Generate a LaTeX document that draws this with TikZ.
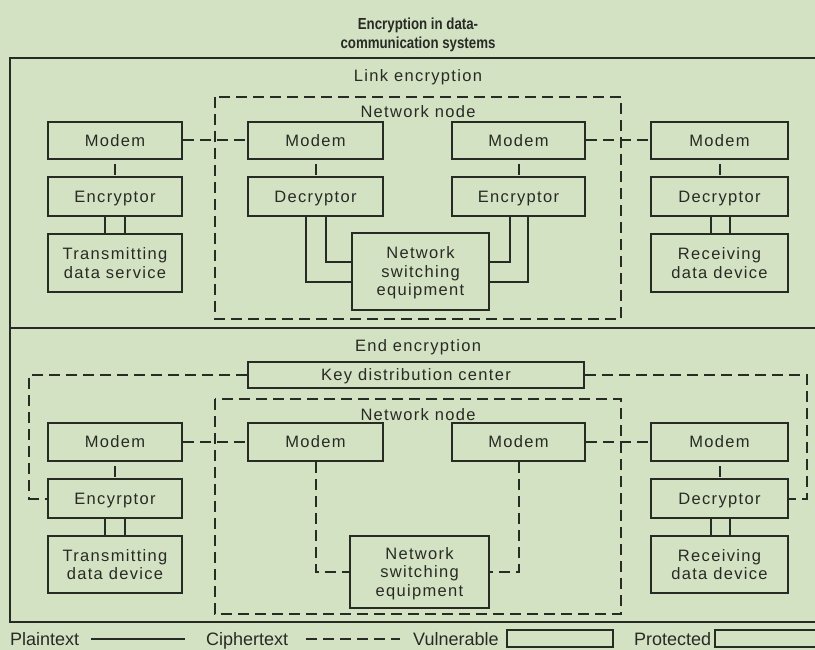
\documentclass[tikz,border=0pt]{standalone}
\usepackage{fontspec}
\setmainfont{Liberation Sans}
\newfontfamily\spacedfont[LetterSpace=8]{Liberation Sans}
\newfontfamily\headfont[FakeStretch=0.83]{Liberation Sans}
\newcommand\unitfont{\spacedfont\fontsize{16.5}{18.5}\selectfont}
\newcommand\legendfont{\fontsize{18}{20}\selectfont}
\newcommand\titlefont{\headfont\bfseries\fontsize{16}{19.5}\selectfont}
\definecolor{paper}{RGB}{212,226,196}
\definecolor{inkc}{RGB}{40,42,36}

\tikzset{
  ink/.style={draw=inkc, line width=2pt},
  plain/.style={ink},
  cipher/.style={ink, dash pattern=on 11pt off 6pt},
  stub/.style={ink, dash pattern=on 11pt off 6pt, dash phase=13pt},
  unit/.style={ink, rectangle, inner sep=0pt, font=\unitfont, text=inkc,
    align=center, text height=11.8pt, text depth=0pt,
    minimum width=134pt, minimum height=38pt},
  tallunit/.style={ink, rectangle, inner sep=0pt, font=\unitfont, text=inkc,
    align=center, text depth=0pt, minimum width=134pt, minimum height=58pt},
  caption/.style={font=\unitfont, text=inkc, inner sep=0pt, anchor=base},
  headline/.style={font=\titlefont, text=inkc, inner sep=0pt, anchor=base},
  legendtext/.style={font=\legendfont, text=inkc, inner sep=0pt, anchor=base west},
}

\begin{document}
\begin{tikzpicture}[x=1pt,y=-1pt]
\fill[paper] (0,0) rectangle (815,650);
\useasboundingbox (0,0) rectangle (815,650);
\clip (0,0) rectangle (815,650);

% ---------- title ----------
\node[headline] (title1) at (418,30) {Encryption in data-};
\node[headline] (title2) at (418,49) {communication systems};

% ---------- outer frame and section divider ----------
\draw[ink] (10,58) rectangle (840,622);
\draw[ink] (10,328) -- (840,328);

% ================= link encryption =================
\node[caption] (linkcap) at (418,82) {Link encryption};
\draw[cipher] (215,97) rectangle (621,319);
\node[caption] (nodecapA) at (418,118) {Network node};

\node[unit, minimum height=37pt] (modA1) at (115,140.5) {Modem};
\node[unit, minimum height=39pt] (encA1) at (115,196.5) {Encryptor};
\node[tallunit] (srcA) at (115,263) {Transmitting\\data service};

\node[unit, minimum width=135pt, minimum height=37pt] (modA2) at (315.5,140.5) {Modem};
\node[unit, minimum width=135pt, minimum height=39pt] (decA2) at (315.5,196.5) {Decryptor};

\node[tallunit, minimum width=137pt, minimum height=77pt] (swA) at (420.5,271.5)
  {Network\\switching\\equipment};

\node[unit, minimum width=133pt, minimum height=37pt] (modA3) at (518.5,140.5) {Modem};
\node[unit, minimum width=133pt, minimum height=39pt] (encA3) at (518.5,196.5) {Encryptor};

\node[unit, minimum width=137pt, minimum height=37pt] (modA4) at (719.5,140.5) {Modem};
\node[unit, minimum width=137pt, minimum height=39pt] (decA4) at (719.5,196.5) {Decryptor};
\node[tallunit, minimum width=137pt] (dstA) at (719.5,263) {Receiving\\data device};

% ciphertext links
\draw[cipher] (modA1.east) -- (modA2.west);
\draw[cipher] (modA3.east) -- (modA4.west);
\draw[stub] (modA1) -- (encA1);
\draw[stub] (modA2) -- (decA2);
\draw[stub] (modA3) -- (encA3);
\draw[stub] (modA4) -- (decA4);

% plaintext links
\draw[plain] ([xshift=-10pt]encA1.south) -- ([xshift=-10pt]encA1.south |- srcA.north);
\draw[plain] ([xshift=10pt]encA1.south) -- ([xshift=10pt]encA1.south |- srcA.north);
\draw[plain] ([xshift=-9pt]decA4.south) -- ([xshift=-9pt]decA4.south |- dstA.north);
\draw[plain] ([xshift=10pt]decA4.south) -- ([xshift=10pt]decA4.south |- dstA.north);

\draw[plain] ([xshift=-9.5pt]decA2.south) |- ([yshift=-10.5pt]swA.west);
\draw[plain] ([xshift=10.5pt]decA2.south) |- ([yshift=9.5pt]swA.west);
\draw[plain] ([xshift=-8.5pt]encA3.south) |- ([yshift=9.5pt]swA.east);
\draw[plain] ([xshift=9.5pt]encA3.south) |- ([yshift=-10.5pt]swA.east);

% ================= end encryption =================
\node[caption] (endcap) at (418,352) {End encryption};
\node[unit, minimum width=336pt, minimum height=26pt] (kdc) at (416,375) {Key distribution center};
\draw[cipher] (215,399) rectangle (621,614);
\node[caption] (nodecapB) at (418,420) {Network node};

\node[unit] (modB1) at (115,442) {Modem};
\node[unit, minimum height=39pt] (encB1) at (115,498.5) {Encyrptor};
\node[tallunit, minimum height=57pt] (srcB) at (115,564.5) {Transmitting\\data device};

\node[unit, minimum width=135pt] (modB2) at (315.5,442) {Modem};
\node[unit, minimum width=133pt] (modB3) at (518.5,442) {Modem};

\node[tallunit, minimum width=139pt, minimum height=72pt] (swB) at (419.5,572)
  {Network\\switching\\equipment};

\node[unit, minimum width=137pt] (modB4) at (719.5,442) {Modem};
\node[unit, minimum width=137pt, minimum height=39pt] (decB4) at (719.5,498.5) {Decryptor};
\node[tallunit, minimum width=137pt, minimum height=57pt] (dstB) at (719.5,564.5) {Receiving\\data device};

% key distribution
\coordinate (kdcL) at (29,375);
\coordinate (kdcR) at (807,375);
\draw[cipher] (kdc.west) -- (kdcL) |- (encB1.west);
\draw[cipher] (kdc.east) -- (kdcR) |- (decB4.east);

% ciphertext links
\draw[cipher] (modB1.east) -- (modB2.west);
\draw[cipher] (modB3.east) -- (modB4.west);
\draw[stub] (modB1) -- (encB1);
\draw[stub] (modB4) -- (decB4);
\draw[cipher] (modB2.south) |- (swB.west);
\draw[cipher] (modB3.south) |- (swB.east);

% plaintext links
\draw[plain] ([xshift=-10pt]encB1.south) -- ([xshift=-10pt]encB1.south |- srcB.north);
\draw[plain] ([xshift=10pt]encB1.south) -- ([xshift=10pt]encB1.south |- srcB.north);
\draw[plain] ([xshift=-9pt]decB4.south) -- ([xshift=-9pt]decB4.south |- dstB.north);
\draw[plain] ([xshift=10pt]decB4.south) -- ([xshift=10pt]decB4.south |- dstB.north);

% ================= legend =================
\node[legendtext] (lgPlain) at (10,645) {Plaintext};
\coordinate (lgPa) at (91,639);
\coordinate (lgPb) at (185,639);
\draw[plain] (lgPa) -- (lgPb);
\node[legendtext] (lgCipher) at (206,645) {Ciphertext};
\coordinate (lgCa) at (306,639);
\coordinate (lgCb) at (400,639);
\draw[cipher] (lgCa) -- (lgCb);
\node[legendtext] (lgVuln) at (413,645) {Vulnerable};
\draw[ink] (507,630) rectangle (613,647);
\node[legendtext] (lgProt) at (634,645) {Protected};
\draw[ink] (715,630) rectangle (840,647);
\end{tikzpicture}
\end{document}
